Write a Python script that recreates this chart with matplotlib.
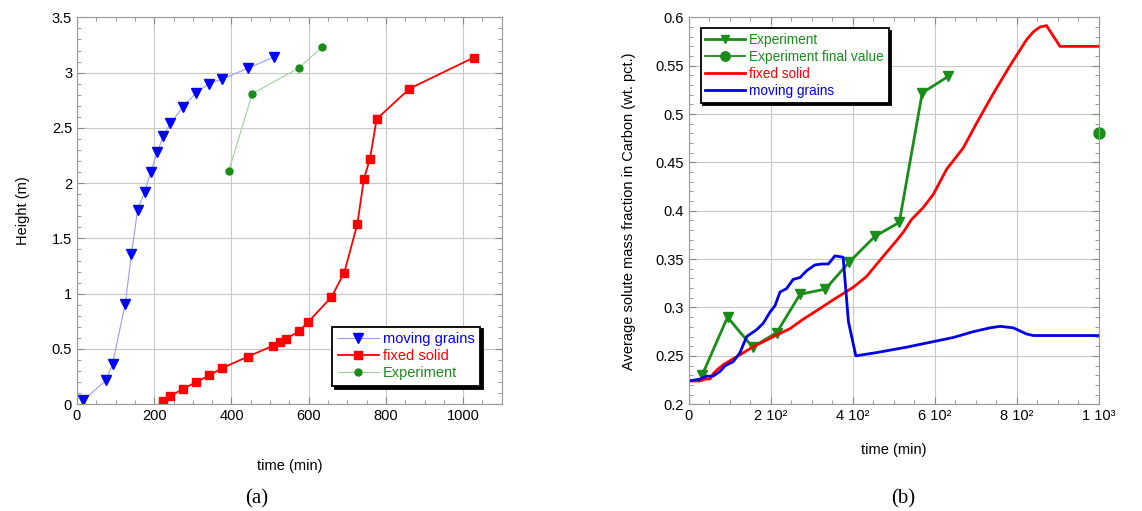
import numpy as np
import matplotlib
matplotlib.use("Agg")
import matplotlib.pyplot as plt
from matplotlib.ticker import MultipleLocator, FixedLocator

plt.rcParams["font.family"] = ["Liberation Sans", "DejaVu Sans"]

# (a) height vs time
grains_t = [16.5, 75, 92, 125, 141, 157, 175, 191, 208, 224, 242, 274.5, 309, 342, 375, 442, 509]
grains_h = [0.036, 0.216, 0.363, 0.91, 1.355, 1.76, 1.92, 2.10, 2.28, 2.43, 2.54, 2.69, 2.82, 2.90, 2.94, 3.04, 3.14]

solid_t = [195, 224, 242, 274.5, 309, 342, 375, 442, 508, 525, 542, 576, 599, 659, 692, 726, 743, 758.6, 776, 861, 1027]
solid_h = [-0.05, 0.03, 0.072, 0.14, 0.2, 0.26, 0.325, 0.43, 0.53, 0.56, 0.59, 0.664, 0.745, 0.97, 1.19, 1.63, 2.04, 2.22, 2.58, 2.855, 3.136]

exp_t = [393, 454, 574, 634]
exp_h = [2.11, 2.81, 3.04, 3.23]

# (b) average carbon vs time
expb_t = [32.5, 94, 155, 214, 271, 332.5, 391, 454, 513, 569, 632.5]
expb_c = [0.2305, 0.290, 0.259, 0.274, 0.3137, 0.319, 0.347, 0.3737, 0.388, 0.522, 0.539]

final_t = [1000]
final_c = [0.48]

fixed_t = [0, 27, 40, 51, 60, 70, 84, 124, 155, 214, 246, 279, 311, 352, 401, 433, 474, 506,
           523, 543, 571.5, 596, 628.5, 669, 701.6, 742, 783, 823.6, 840, 856, 872, 905, 1000]
fixed_c = [0.224, 0.224, 0.226, 0.226, 0.232, 0.236, 0.241, 0.251, 0.259, 0.2716, 0.278, 0.288, 0.2966, 0.308, 0.321, 0.332, 0.353, 0.369,
           0.378, 0.391, 0.4034, 0.417, 0.443, 0.465, 0.4906, 0.521, 0.550, 0.577, 0.585, 0.590, 0.5915, 0.570, 0.570]

moving_t = [0, 27, 43, 59, 76, 88, 108, 124, 141, 165, 181, 198, 210, 222, 238, 254, 271, 287, 307, 324, 340, 356, 376,
            389, 407, 458, 531, 596, 645, 693.5, 734.6, 759, 791, 823.6, 840, 1000]
moving_c = [0.224, 0.226, 0.229, 0.229, 0.234, 0.2397, 0.244, 0.253, 0.270, 0.277, 0.2836, 0.2955, 0.302, 0.316, 0.3195, 0.329, 0.331, 0.338, 0.344, 0.345, 0.345, 0.3534, 0.352,
            0.2853, 0.25, 0.2534, 0.259, 0.2647, 0.269, 0.275, 0.279, 0.2805, 0.279, 0.2726, 0.271, 0.271]

xb_ticks = [0, 200, 400, 600, 800, 1000]
xb_labels = ["0", "2 10²", "4 10²", "6 10²", "8 10²", "1 10³"]

GREEN = "#1a8c1a"


def style_axes(ax):
    ax.grid(True, color="#c8c8c8", linewidth=0.8)
    ax.set_axisbelow(True)
    for s in ax.spines.values():
        s.set_color("#999999")
    ax.tick_params(which="both", direction="in", top=True, right=True, colors="#888888", labelcolor="black", labelsize=10.5)
    ax.tick_params(which="major", length=5)
    ax.tick_params(which="minor", length=3)


def color_legend(leg):
    leg.get_frame().set_edgecolor("black")
    leg.get_frame().set_linewidth(1.3)
    for text, line in zip(leg.get_texts(), leg.get_lines()):
        c = line.get_markerfacecolor() if line.get_marker() not in (None, "None", "") else line.get_color()
        text.set_color(c)


fig = plt.figure(figsize=(11.42, 5.11), dpi=100)
ax1 = fig.add_axes([0.0674, 0.209, 0.372, 0.757])
ax2 = fig.add_axes([0.6033, 0.209, 0.359, 0.757])

# panel (a)
ax1.plot(grains_t, grains_h, "-v", color="#9a9aff", lw=0.8, mfc="blue", mec="blue", ms=6.5, label="moving grains")
ax1.plot(solid_t, solid_h, "-s", color="red", lw=1.3, ms=5.5, label="fixed solid")
ax1.plot(exp_t, exp_h, "-o", color="#9fcf9f", lw=0.8, mfc=GREEN, mec=GREEN, ms=5, label="Experiment")
ax1.set_xlim(0, 1100)
ax1.set_ylim(0, 3.5)
ax1.xaxis.set_major_locator(FixedLocator([0, 200, 400, 600, 800, 1000]))
ax1.xaxis.set_minor_locator(MultipleLocator(50))
ax1.yaxis.set_minor_locator(MultipleLocator(0.1))
ax1.set_yticks([0, 0.5, 1, 1.5, 2, 2.5, 3, 3.5])
ax1.set_yticklabels(["0", "0.5", "1", "1.5", "2", "2.5", "3", "3.5"])
ax1.set_xlabel("time (min)", fontsize=10.5, labelpad=26)
ax1.set_ylabel("Height (m)", fontsize=10.5, labelpad=16)
style_axes(ax1)
leg1 = ax1.legend(loc="lower right", bbox_to_anchor=(0.967, 0.028), fancybox=False, framealpha=1,
                  shadow={"color": "black", "alpha": 1}, fontsize=10.5, handlelength=2.8,
                  borderpad=0.4, labelspacing=0.2, handletextpad=0.3)
color_legend(leg1)

# panel (b)
ax2.plot(expb_t, expb_c, "-v", color=GREEN, lw=2, ms=7, label="Experiment")
ax2.plot(final_t, final_c, "-o", color=GREEN, lw=1.3, ms=8, clip_on=False, label="Experiment final value")
ax2.plot(fixed_t, fixed_c, "-", color="red", lw=2, label="fixed solid")
ax2.plot(moving_t, moving_c, "-", color="#0000e6", lw=2, label="moving grains")
ax2.set_xlim(0, 1000)
ax2.set_ylim(0.2, 0.6)
ax2.set_xticks(xb_ticks)
ax2.set_xticklabels(xb_labels)
ax2.xaxis.set_minor_locator(MultipleLocator(50))
ax2.set_yticks([0.2, 0.25, 0.3, 0.35, 0.4, 0.45, 0.5, 0.55, 0.6])
ax2.set_yticklabels(["0.2", "0.25", "0.3", "0.35", "0.4", "0.45", "0.5", "0.55", "0.6"])
ax2.yaxis.set_minor_locator(MultipleLocator(0.01))
ax2.set_xlabel("time (min)", fontsize=10.5, labelpad=14)
ax2.set_ylabel("Average solute mass fraction in Carbon (wt. pct.)", fontsize=10.5, labelpad=14)
style_axes(ax2)
leg2 = ax2.legend(loc="upper left", bbox_to_anchor=(0.012, 0.99), fancybox=False, framealpha=1,
                  shadow={"color": "black", "alpha": 1}, fontsize=9.8, handlelength=2.9, markerscale=0.85,
                  borderpad=0.35, labelspacing=0.22, handletextpad=0.3)
color_legend(leg2)

fig.text(0.2245, 0.014, "(a)", family=["Liberation Serif", "DejaVu Serif"], fontsize=15, ha="center")
fig.text(0.791, 0.014, "(b)", family=["Liberation Serif", "DejaVu Serif"], fontsize=15, ha="center")

fig.savefig("out.png", dpi=100)
plt.close(fig)
